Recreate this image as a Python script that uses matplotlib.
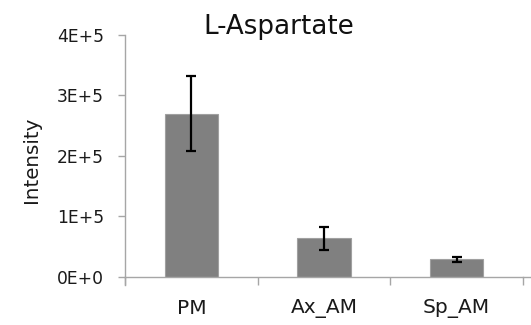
import matplotlib
matplotlib.use("Agg")
import matplotlib.pyplot as plt
from matplotlib.lines import Line2D

categories = ["PM", "Ax_AM", "Sp_AM"]
values = [2.70e5, 0.64e5, 0.29e5]
errors = [0.615e5, 0.19e5, 0.04e5]
yticks = [0, 1e5, 2e5, 3e5, 4e5]
ytick_labels = ["0E+0", "1E+5", "2E+5", "3E+5", "4E+5"]

plt.rcParams['font.family'] = ['DejaVu Sans']

W, H = 531, 325
fig = plt.figure(figsize=(W / 100, H / 100), dpi=100)
ax_left, ax_right, ax_bottom, ax_top = 125, 523, 276.7, 35
ax = fig.add_axes([ax_left / W, 1 - ax_bottom / H, (ax_right - ax_left) / W, (ax_bottom - ax_top) / H])

axis_color = "#a6a6a6"
text_color = "#1a1a1a"
x = list(range(len(categories)))
ax.bar(x, values, width=0.4, color="#808080", edgecolor="#a0a0a0", linewidth=0.8, zorder=2)
ax.errorbar(x, values, yerr=errors, fmt="none", ecolor="black", elinewidth=1.6,
            capsize=3.6, capthick=1.6, zorder=3)

ax.set_xlim(-0.5, 2.5)
ax.set_ylim(0, 4e5)
ax.set_yticks(yticks)
ax.set_yticklabels(ytick_labels, fontsize=12.3, color=text_color)
ax.set_xticks([-0.5, 0.5, 1.5, 2.5])
ax.set_xticklabels([])
ax.set_xticks(x, minor=True)
ax.set_xticklabels(categories, minor=True, fontsize=14.5, color=text_color)
ax.tick_params(axis='x', which='major', length=6, color=axis_color, width=1, direction='out')
ax.tick_params(axis='x', which='minor', length=0, pad=16)
ax.tick_params(axis='y', length=5, color=axis_color, width=1, direction='out', pad=10)

for s in ["top", "right"]:
    ax.spines[s].set_visible(False)
for s in ["left", "bottom"]:
    ax.spines[s].set_color(axis_color)
    ax.spines[s].set_linewidth(1)
ax.add_line(Line2D([0, 0], [0, -8 / 241.7], transform=ax.transAxes, color=axis_color,
                   linewidth=1, clip_on=False))
ax.add_line(Line2D([1, 1.025], [0, 0], transform=ax.transAxes, color=axis_color,
                   linewidth=1, clip_on=False))

ax.set_ylabel("Intensity", fontsize=14.3, color=text_color)
ax.yaxis.label.set_verticalalignment("center")
ax.yaxis.set_label_coords((32 - ax_left) / (ax_right - ax_left), (ax_bottom - 160) / (ax_bottom - ax_top))

fig.text(279 / W, 1 - 34 / H, "L-Aspartate", fontsize=18.8, ha="center", va="baseline", color="#111111")

fig.savefig("out.png", dpi=100)
